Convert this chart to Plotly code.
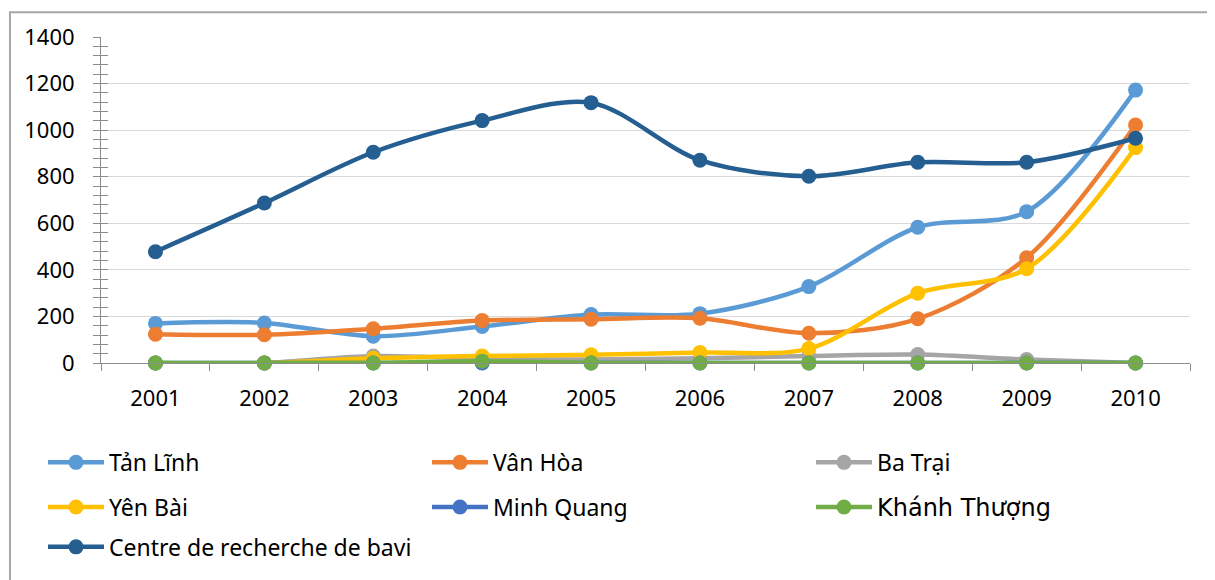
"""
    Line chart: sites 2001-2010
"""

import plotly.graph_objs as go

YEARS = ["2001", "2002", "2003", "2004", "2005", "2006", "2007", "2008", "2009", "2010"]

TAN_LINH = [170, 172, 115, 157, 208, 212, 328, 583, 650, 1172]
VAN_HOA = [124, 121, 147, 182, 188, 192, 128, 190, 452, 1022]
BA_TRAI = [0, 0, 30, 18, 15, 20, 30, 36, 15, 0]
YEN_BAI = [0, 0, 20, 30, 35, 45, 62, 300, 405, 925]
MINH_QUANG = [0, 0, 0, 0, 0, 0, 0, 0, 0, 0]
KHANH_THUONG = [0, 0, 0, 8, 0, 0, 0, 0, 0, 0]
CENTRE = [478, 687, 905, 1041, 1118, 871, 802, 862, 862, 965]

NAMES = ["Tản Lĩnh", "Vân Hòa", "Ba Trại", "Yên Bài", "Minh Quang",
         '<span style="font-family:DejaVu Sans;font-size:24px">Khánh Thượng</span>',
         "Centre de recherche de bavi"]
COLORS = ["#5B9BD5", "#ED7D31", "#A5A5A5", "#FFC000", "#4472C4", "#70AD47", "#255E91"]
SERIES = [TAN_LINH, VAN_HOA, BA_TRAI, YEN_BAI, MINH_QUANG, KHANH_THUONG, CENTRE]
LEGENDS = ["legend", "legend", "legend", "legend2", "legend2", "legend2", "legend3"]

FONT = "Noto Sans"

# page has an 8px body margin, so the figure is drawn from (8, 8)
OFF = 8
# plot area in page pixels
L, R, T, B = 101, 1190, 37, 365
W, H = 1215 - OFF, 580 - OFF


def px_x(p):
    return (p - L) / (R - L)


def px_y(p):
    return (B - p) / (B - T)


data = []
for name, ys, color, leg in zip(NAMES, SERIES, COLORS, LEGENDS):
    data.append(go.Scatter(
        x=YEARS, y=ys, name=name, mode="lines+markers", legend=leg,
        line={"color": color, "width": 4.5, "shape": "spline", "smoothing": 0.9},
        marker={"color": color, "size": 15},
        cliponaxis=False,
    ))

legend_common = dict(
    orientation="h", xanchor="left", yanchor="middle", x=px_x(43),
    entrywidth=313, itemwidth=56, font={"family": FONT, "size": 23, "color": "#000"},
    bgcolor="rgba(0,0,0,0)", traceorder="normal",
)

layout = go.Layout(
    width=W, height=H,
    margin={"l": L - OFF, "r": W - (R - OFF), "t": T - OFF, "b": H - (B - OFF)},
    paper_bgcolor="white", plot_bgcolor="white",
    font={"family": FONT, "size": 22, "color": "#000"},
    showlegend=True,
    legend=dict(legend_common, y=px_y(465)),
    legend2=dict(legend_common, y=px_y(510)),
    legend3=dict(legend_common, y=px_y(550)),
    xaxis=dict(
        type="category", range=[-0.5, 9.5], showgrid=False,
        showline=True, linecolor="#8C8C8C", linewidth=1,
        ticks="outside", tickson="boundaries", ticklen=7, tickcolor="#8C8C8C",
        ticklabelstandoff=16, zeroline=False,
        tickfont={"family": FONT, "size": 22},
    ),
    yaxis=dict(
        range=[0, 1400], dtick=200, showgrid=True, gridcolor="#D9D9D9", gridwidth=1,
        showline=True, linecolor="#8C8C8C", linewidth=1, zeroline=False,
        ticks="outside", ticklen=7, tickcolor="#8C8C8C",
        minor={"dtick": 40, "ticks": "outside", "ticklen": 7, "tickcolor": "#8C8C8C"},
        ticklabelstandoff=14,
        tickfont={"family": FONT, "size": 22},
    ),
    yaxis2=dict(
        range=[0, 1400], overlaying="y", showgrid=False, showticklabels=False,
        ticks="inside", dtick=200, ticklen=7, tickcolor="#8C8C8C",
        minor={"dtick": 40, "ticks": "inside", "ticklen": 7, "tickcolor": "#8C8C8C"},
        zeroline=False,
    ),
    shapes=[dict(
        type="rect", xref="paper", yref="paper",
        x0=px_x(10), x1=px_x(1230), y0=px_y(600), y1=px_y(12),
        line={"color": "#A6A6A6", "width": 2}, layer="below",
    )],
)

# invisible trace so the inner tick axis is drawn
data.append(go.Scatter(x=[YEARS[0]], y=[0], yaxis="y2", showlegend=False,
                       mode="markers", marker={"opacity": 0}, hoverinfo="skip"))

fig = go.Figure(data=data, layout=layout)
fig.write_html("out.html")
